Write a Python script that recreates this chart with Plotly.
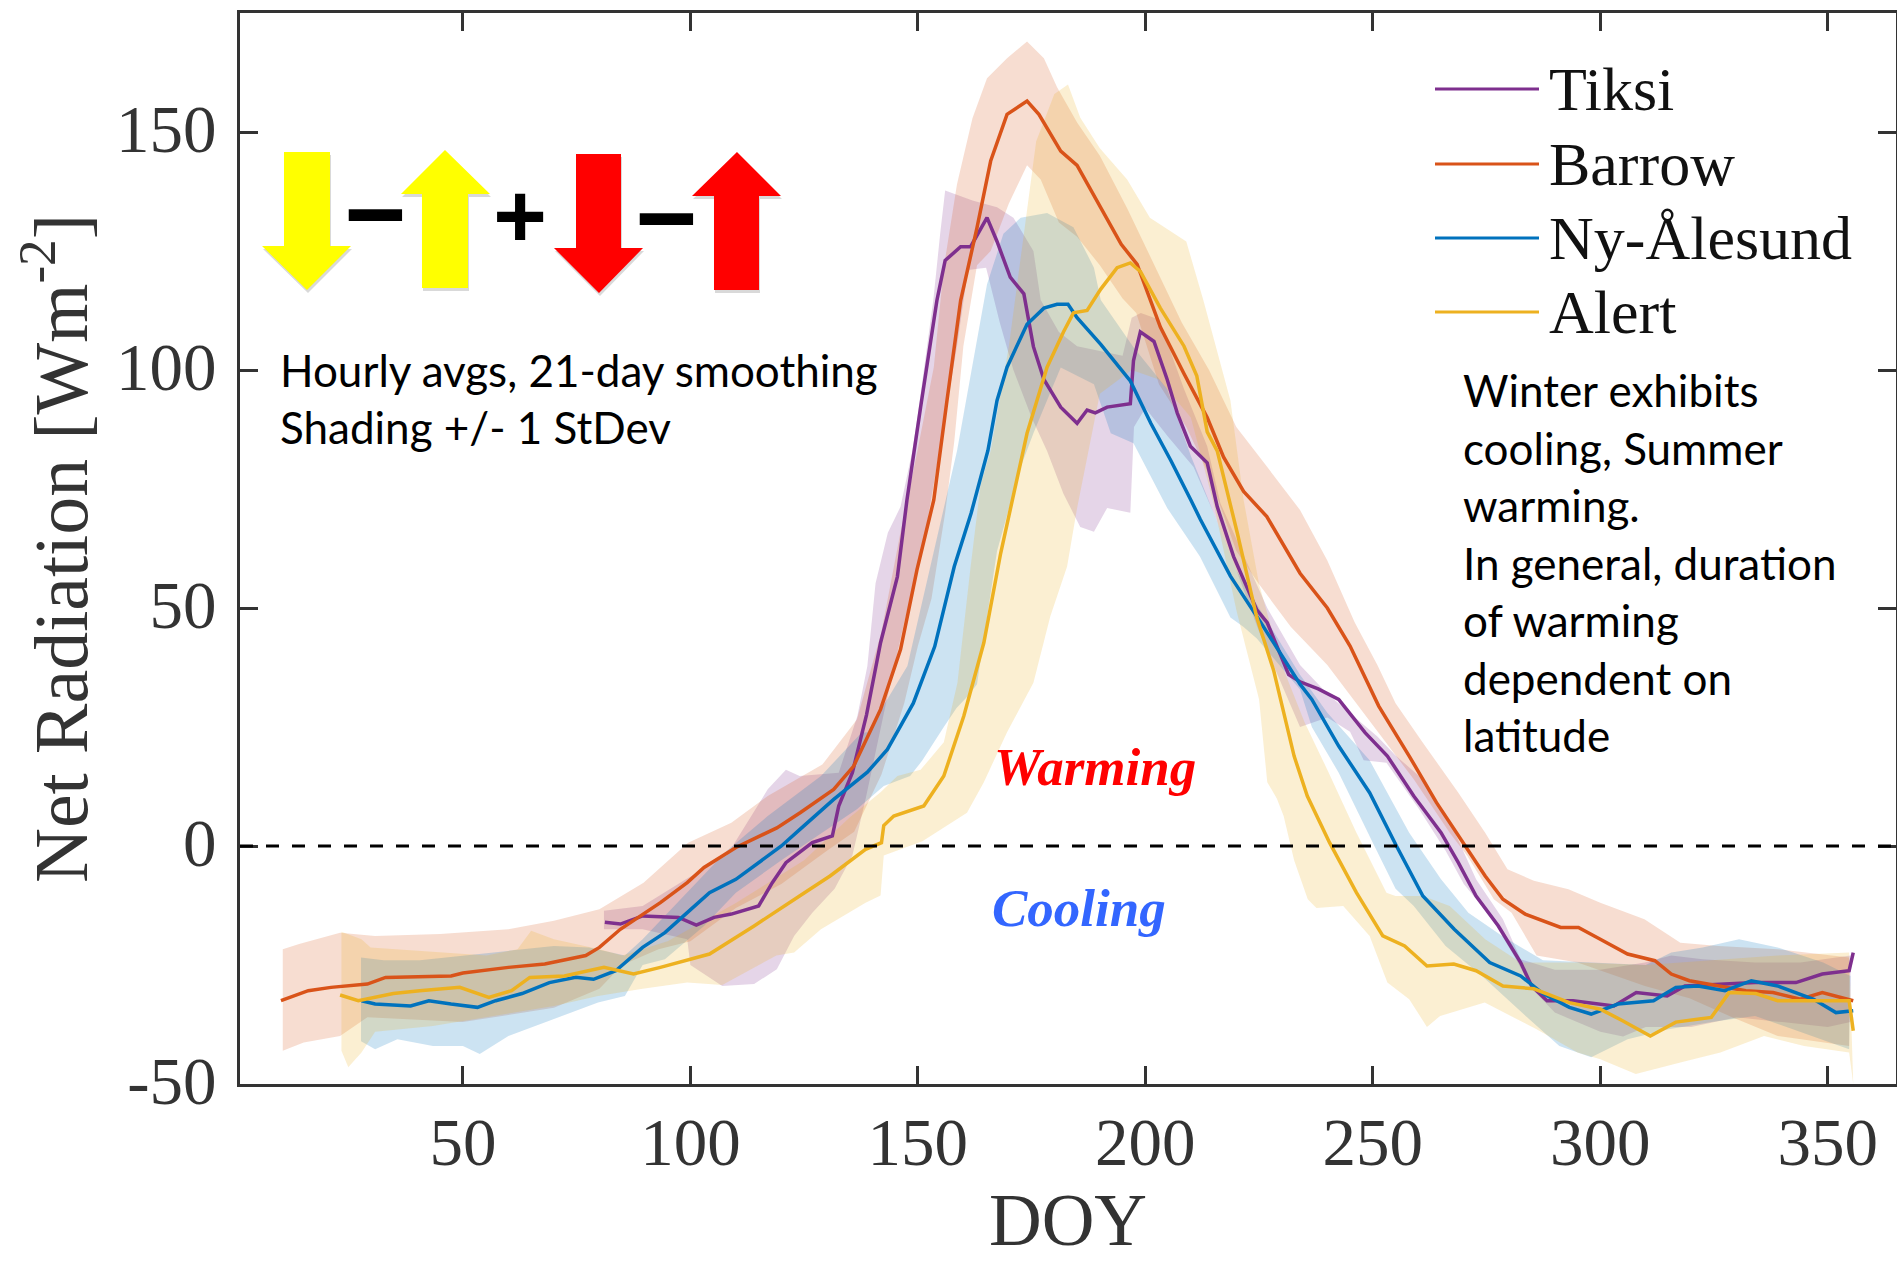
import plotly.graph_objects as go

W, H = 1897, 1261
L, R, T, B = 240, 1896, 13, 1084

# ---------- data ----------
tiksi_doy = [81.2,84.6,89.5,94.4,97.4,101.3,105.2,109,115,118,121,126.8,131.2,132.6,135.6,138.7,141.8,145.5,147.6,150.6,154.2,156,159.4,161.6,165.2,167.4,170.3,173.3,175.4,177.7,181.4,185,187.2,189,191.6,196.7,197.4,198.9,201.9,204.8,207,209.9,213.6,215.8,219.4,224.5,226.8,231.5,234,238,242.5,248.3,253.2,259,265,268.8,272.7,277.6,282.5,284.9,288.3,294,303,307.9,314.7,318.6,326.4,334,343,348.8,354.7,355.6]
tiksi = [-16,-16.4,-14.7,-14.8,-15,-16.6,-15,-14.3,-12.6,-7.7,-3.5,0.7,2.1,8.4,15.4,27.5,42.7,56.6,72.7,92.2,114.7,123,125.9,125.9,132,127,119.5,116,104.9,98,92.2,88.8,91.6,91,92.2,92.9,102,108,106,98,91,84,80.5,71.3,60.8,49.6,46.9,36,34.5,33,30.8,23.8,18.9,10.5,2.8,-3.5,-10.5,-16.8,-24.5,-29.4,-32.5,-32.5,-33.6,-30.8,-31.5,-29.4,-29,-28.7,-28.7,-26.9,-26.2,-22.4]
tiksi_hi_doy = [81,89.5,99,108,117,121,124,132.6,136.7,138.9,140.7,143.4,146.2,148.8,149.9,153.4,154.9,156,162,167.4,171,175.4,177,181,185,190,195,197,199,203,208.5,213.6,216.5,226.8,234,240,251,255,261,267,272.7,278.6,282.5,290,300,309.8,315.6,322.5,334,344,355]
tiksi_hi = [-13.6,-12.6,-7,-2,11.9,16,14.7,15.4,27.3,37.8,55.2,65.8,71.3,83.1,90,114.7,128.6,137.7,135.6,134.2,132,125,114.7,108,105,104,103,111,112,110.6,96,84,72,50,38,32,23,19,14,5,-7,-15.4,-23.8,-26,-26,-24.5,-23,-23.8,-24.5,-24.5,-23]
tiksi_lo_doy = [81,89.5,99.3,100,107,114,119,122.8,126.8,131.7,135.6,138.5,143,147,151,155,158.6,161,165,168,171,175,178.4,182,185.7,188.7,191.6,196.7,197.5,200,205,210.6,215,220,225,234,240,245,248,253,260,266,270,276,281,285,290,300,305,310,320,330,340,350,355]
tiksi_lo = [-17.5,-17.5,-19.6,-25,-29.4,-29,-25.9,-18.9,-14,-9,-2,9.8,30,47,62,85,105,121,121.5,110,100,90,83,74,67,66,71,70,88,92,86,79.6,70,58,45,25,27,24,18,17.5,8,-1,-8,-15,-23,-30,-35,-39,-40,-38,-38,-36,-37,-38,-37]

barrow_doy = [10,16,21,29,33,40.5,47.4,50,60,68,77,80,84.6,93.4,99.3,103,110,119,124.2,131.5,135.9,141.8,146.2,149.8,153.5,156.4,159.4,163,166,169.6,174,176.6,181.4,185,190.2,194.7,198.2,203.3,208.5,213.6,217.2,221.6,226.7,234,240,245,251.3,258,264,269.8,274.7,278.6,283.5,291.3,295.2,300,306,312,315.6,319.6,326.4,332,338,344,348.8,354.7,355.6]
barrow = [-32.5,-30.4,-29.7,-29,-27.6,-27.4,-27.3,-26.7,-25.5,-24.8,-23,-21.3,-17.5,-11.9,-7.7,-4.5,-0.3,3.8,7.05,11.9,16.8,28.7,41.3,58,72.7,93.6,114.6,129.9,143.9,153.7,156.5,153.7,146,143,134,126.4,122.2,109,99.2,90,81.7,74.5,69.2,57.3,50,42,29.4,18.9,9.1,0.7,-6.3,-11.2,-14.3,-17.1,-17.1,-19.6,-22.7,-24.1,-26.9,-28.3,-29.4,-30.4,-30.8,-32.2,-30.8,-32.2,-32.5]
barrow_hi_doy = [10.4,14,23,30.7,45,60,70,80,89.7,99.5,109,117,129,136.6,142,146,149.9,153.5,155.7,158.6,162,165.2,169.6,174,177.7,180.6,185,190,196,201,208,214,220,226.8,234,240,246,251,255,261,268.8,274.7,279.6,285.4,293,300,309.7,317.6,326,339,354.7]
barrow_hi = [-21.7,-20.6,-18.2,-18.9,-18.5,-17.5,-15.7,-13.3,-7.7,0.7,4.9,10.5,17.1,26.6,45,65,83,100.6,121.5,139,152.9,161.3,165.5,169,165.5,159.4,152,145,134,124,110,100,88,79.6,70.6,60,47,38,30,21.7,11.2,2.8,-4.9,-7.3,-9.1,-11.9,-15.4,-20.3,-21,-21.7,-23.4]
barrow_lo_doy = [10.4,15,23,29,50,70,80,85,93,100,110,120,130,136,142,147,150,153,156,158,160,163,166,170,174,177,181,185,190,195,198,203,209,214,220,225,232,240,247.4,259,266.9,270.8,276.6,280.5,286,295,309.8,319.6,329,339,354.7]
barrow_lo = [-43,-41.3,-39.9,-36,-37,-34,-30,-25,-21.7,-20,-13,-8,-1,3,15,30,42,52,70,85,105,122,125,135,143,140,131,128,122,115,112,97,88,78,62,55,46,38,28.7,14,2.8,-2.1,-11.2,-14,-23,-24.5,-29.4,-32,-36,-39.9,-42]

ny_doy = [27.7,30.7,38.5,42.5,47.4,53.2,57.2,63,69,74.8,78.7,83.6,89.5,94.4,99.3,104.2,110,120,124.2,131.5,138.9,143.3,149,153.7,158,161.7,165.4,167.4,169.6,174,177.7,180.6,183,185,190.2,196.7,201.2,205.6,210,212.1,218.7,225,234,236.6,242.5,249.3,255.2,261,267.9,275.7,282.5,287.4,293.2,298,303.9,311.7,316.6,321.5,327.4,333.2,339,346.9,351.8,355.6]
ny = [-32.5,-33.2,-33.6,-32.5,-33.2,-33.9,-32.5,-31,-28.7,-27.6,-28,-26.2,-21.3,-18.2,-14,-9.8,-7,0,3.6,9.8,15.5,20.3,30,41.9,58.7,69.9,83.1,93.6,100.6,109.6,113,113.8,113.8,111,105.4,97.7,88.8,81,72.7,68.6,56.7,47.5,34,30.8,21,11.2,0,-10.5,-17.5,-24.5,-27.3,-31,-33.9,-35.3,-33.2,-32.5,-29.7,-29.4,-30.4,-28.3,-29.4,-32.2,-35,-34.6]
ny_hi_doy = [27.6,32.6,40.5,50,70,77.7,85.6,89.5,99,108,117,128.7,137.6,138.9,147.7,152.8,158.6,165.2,168.8,172.6,178.4,184.2,188.7,190.2,197.4,204.8,210,215,220,225,234,240,249.3,258,265,271,278.6,287.4,298,310,315.6,322.5,330.5,339,349,355]
ny_hi = [-23.4,-24,-24,-23,-21,-21.3,-23,-19.6,-10,-1,6.3,14.7,23.8,23.9,37.8,58.7,83,118,128.6,132,133,130,121.5,114.7,104.8,96,82,70,58,50,36,28,18,2.8,-7,-14,-19,-24,-24.5,-25,-22.4,-21.3,-19.6,-21.3,-24.5,-27.3]
ny_lo_doy = [27.6,30.7,35.6,43.4,50,53.7,60,70,79.7,85.6,89.5,94.4,103,110,120,136.6,142.5,148.3,151,155.7,158.5,161,163,167.4,172.6,175.4,181.4,188.7,192.4,197.4,204.8,212,218.7,221.6,224.5,234,236.6,242.5,250,255,259,266,274,284.4,291,298,306,315,324.5,334,343.6,354.7]
ny_lo = [-41,-42.7,-40.6,-42,-42,-43.7,-39.9,-36.4,-32.9,-31.5,-25,-23.8,-16.8,-9.8,-3,7.7,12.6,14.7,18,25,29,31.5,34,62,79.6,86.7,100.5,97,86.7,84.6,71,60.8,48,46,43.6,32.9,25,15.4,0.7,-9,-12.6,-21,-27.3,-36.4,-42,-44.4,-40.6,-38.5,-37,-35.7,-39,-42.7]

alert_doy = [23,27,34.7,40.5,49.3,55.7,60.7,64.7,72.3,81,87.5,93.4,104.2,114,124,130.7,138.5,142,142.5,144.7,151.3,155.7,160.1,164.5,168.2,171.1,174,178.4,182,184.2,187.2,190.2,193.8,196.7,198.9,203.3,208.5,211.3,213.6,215.8,220.2,224.5,228.2,232.7,235.6,240.5,246.4,252.2,257,261.9,267.8,272.7,278.6,285.4,293.2,300,304.9,311,316.6,324.4,328.3,334.2,339,348.9,354.7,355.6]
alert = [-31.3,-32.5,-31,-30.4,-29.7,-31.8,-30.4,-27.6,-27.3,-25.5,-26.9,-25.5,-22.7,-16.8,-10.5,-6.3,-0.7,0.7,4.3,6.3,8.4,14.7,27.3,42.7,61.5,74,86.7,100.6,108,112,112.5,117,121.5,122.5,120.7,113,105,98.8,87,83,65.8,48,36.9,18.9,10.5,0.7,-9.8,-18.9,-21,-25.2,-24.8,-26.2,-29.4,-30,-32.9,-34.3,-36.7,-39.9,-37,-36,-30.8,-31,-32.5,-32.5,-32.5,-38.8]
alert_hi_doy = [23.3,27.7,29.7,40.5,55.2,62,65,70,80,85,95,110,125,135,141.8,145.5,150.6,155.7,158.7,161.6,163.8,166,170,173.5,176,180,183,185.7,190,196,201,209,212.8,218.7,221.6,225,230,235,240,246.4,253,255,261,266.9,274.7,282.5,295,310,324,339,354.7]
alert_hi = [-18,-19.6,-21.3,-22,-23,-21.7,-17.8,-19.6,-21.7,-23,-20,-12,-3,6,11.3,14.7,16,21.8,34.3,58.7,76,83,105,130,148,158,160,153,146.6,140,132,127,114.5,93.6,72.7,55,38,26,16,2.8,-9.8,-10.5,-10.5,-12.6,-19.6,-24.5,-24.5,-25,-24,-23,-22.4]
alert_lo_doy = [23.3,24.8,27.7,30.7,43.4,55,70,79.7,89.5,99.3,107,118.9,122.8,128.7,138.5,141.8,142.5,151,160.8,164.5,169.6,175.4,179.1,182.8,185,190,197,203,210,215,220,225,226.8,228.9,230.4,232.7,235.7,237.6,243.5,249.3,253.2,258,261.9,264.8,274.6,280.4,286,295,300,307.8,317.6,326.4,336,344.8,354.7,355.6]
alert_lo = [-43,-46.5,-43.4,-39,-37.8,-36,-33.6,-31.5,-30,-28.7,-29.2,-23,-22.4,-17.5,-11.9,-10.4,-2,1,7,13.4,23.9,34.3,48.2,58.7,71,95,100,98,90,72,49.6,30.8,13.4,10,6.3,-3,-11.2,-13,-12.6,-18.9,-28.7,-32.2,-38,-35.7,-32.9,-35.7,-38.5,-43.4,-44.8,-47.9,-45.5,-43.4,-39.9,-42,-43.4,-50]

x_ticks = [50,100,150,200,250,300,350]
y_ticks = [-50,0,50,100,150]
legend_names = ["Tiksi","Barrow","Ny-Ålesund","Alert"]
note_left = ["Hourly avgs, 21-day smoothing","Shading +/- 1 StDev"]
note_right = ["Winter exhibits","cooling, Summer","warming.","In general, duration","of warming","dependent on","latitude"]

TIKSI, BARROW, NY, ALERT = "#7E2F8E", "#D95319", "#0072BD", "#EDB120"
SERIF = "Liberation Serif"
SANS = "Lato"

def px(x): return (x - L) / (R - L)
def py(y): return (B - y) / (B - T)
def fill(c, a=0.2):
    r, g, b = int(c[1:3],16), int(c[3:5],16), int(c[5:7],16)
    return f"rgba({r},{g},{b},{a})"

series = [
    ("Tiksi", TIKSI, tiksi_doy, tiksi, tiksi_hi_doy, tiksi_hi, tiksi_lo_doy, tiksi_lo),
    ("Barrow", BARROW, barrow_doy, barrow, barrow_hi_doy, barrow_hi, barrow_lo_doy, barrow_lo),
    ("Ny-Ålesund", NY, ny_doy, ny, ny_hi_doy, ny_hi, ny_lo_doy, ny_lo),
    ("Alert", ALERT, alert_doy, alert, alert_hi_doy, alert_hi, alert_lo_doy, alert_lo),
]

fig = go.Figure()
for name, c, d, v, hd, h, ld, l in series:
    fig.add_trace(go.Scatter(x=hd + ld[::-1], y=h + l[::-1], mode="lines", fill="toself",
                             fillcolor=fill(c), line=dict(width=0), hoverinfo="skip", showlegend=False))
for name, c, d, v, hd, h, ld, l in series:
    fig.add_trace(go.Scatter(x=d, y=v, mode="lines", name=name, line=dict(color=c, width=3.5), showlegend=False))

shapes = [dict(type="line", xref="paper", yref="y", x0=0, x1=1, y0=0, y1=0,
               line=dict(color="black", width=3, dash="13px,13px"), layer="above")]

def poly(pts, color, opacity=1.0):
    path = "M " + " L ".join(f"{px(x):.5f},{py(y):.5f}" for x, y in pts) + " Z"
    return dict(type="path", xref="paper", yref="paper", path=path, fillcolor=color,
                opacity=opacity, line=dict(width=0), layer="above")

def arrow(xa, xb, y0, ys, hl, hr, tipx, tipy):
    return [(xa,y0),(xb,y0),(xb,ys),(hr,ys),(tipx,tipy),(hl,ys),(xa,ys)]

arrows = [
    (arrow(284,330,152,246,262,351,307,290), "#FFFF00"),
    (arrow(422,468,288,194,401,490,445,150), "#FFFF00"),
    (arrow(576,621,154,248,554,643,599,293), "#FF0000"),
    (arrow(714,759,290,196,692,781,737,152), "#FF0000"),
]
for pts, col in arrows:
    shapes.append(poly([(x+1, y+3) for x, y in pts], "#808080", 0.3))
    shapes.append(poly(pts, col))

legend_y = [89,164,238,312]
for y, c in zip(legend_y, [TIKSI, BARROW, NY, ALERT]):
    shapes.append(dict(type="line", xref="paper", yref="paper", x0=px(1435), x1=px(1539), y0=py(y), y1=py(y),
                       line=dict(color=c, width=3), layer="above"))

ann = []
def text(x, y, s, size, font, color="black", xanchor="left", yanchor="middle", **kw):
    ann.append(dict(xref="paper", yref="paper", x=px(x), y=py(y), text=s, showarrow=False,
                    xanchor=xanchor, yanchor=yanchor, font=dict(size=size, family=font, color=color), **kw))

for name, y in zip(legend_names, legend_y):
    text(1547, y, name, 62, SERIF, "#111111")
for s, y in zip(note_left, [370,427]):
    text(278, y, s, 44, SANS)
for s, y in zip(note_right, [390,448,505,563,620,678,735]):
    text(1461, y, s, 44, SANS)
text(992, 767, "<b><i>Warming</i></b>", 53, SERIF, "#FF0000")
text(990, 908, "<b><i>Cooling</i></b>", 53, SERIF, "#3366FF")
text(375, 211, "<b>−</b>", 110, "Open Sans", xanchor="center")
text(520, 214, "<b>+</b>", 95, "Open Sans", xanchor="center")
text(666, 215, "<b>−</b>", 110, "Open Sans", xanchor="center")

axis = dict(mirror="allticks", ticks="inside", ticklen=18, tickwidth=3, tickcolor="#333333",
            showline=True, linewidth=3, linecolor="#333333", showgrid=False, zeroline=False,
            tickfont=dict(family=SERIF, size=67, color="#333333"), automargin=False)
fig.update_layout(
    width=W, height=H, autosize=False, plot_bgcolor="white", paper_bgcolor="white",
    margin=dict(l=L, r=W-R, t=T, b=H-B, pad=0),
    xaxis=dict(range=[1,365], tickvals=x_ticks, ticklabelstandoff=-2,
               title=dict(text="DOY", standoff=35, font=dict(family=SERIF, size=73, color="#333333")), **axis),
    yaxis=dict(range=[-50,175], tickvals=y_ticks, ticktext=[str(v) for v in y_ticks],
               ticklabelstandoff=7, ticklabelshift=-3,
               title=dict(text="Net Radiation [Wm<sup>-2</sup>]", standoff=4, font=dict(family=SERIF, size=76, color="#333333")), **axis),
    shapes=shapes, annotations=ann, showlegend=False,
)
fig.write_html("out.html", config={"displayModeBar": False}, post_script="document.body.style.margin='0';")
